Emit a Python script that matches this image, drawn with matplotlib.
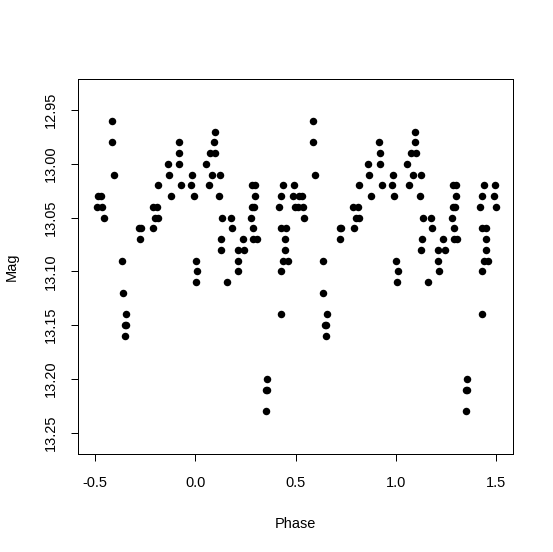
import numpy as np
import matplotlib.pyplot as plt


# ==========================
# Data (phase folded, -0.5 .. 0.5)
# ==========================

phase = [
    -0.488, -0.483, -0.470, -0.464, -0.457,
    -0.415, -0.413, -0.405,
    -0.365, -0.362, -0.344, -0.352, -0.347, -0.349,
    -0.279, -0.273, -0.277,
    -0.209, -0.212, -0.190, -0.200, -0.184, -0.184,
    -0.138, -0.133, -0.123,
    -0.083, -0.080, -0.080, -0.071,
    -0.016, -0.020, -0.008, 0.002, 0.010, 0.003,
    0.055, 0.067, 0.097, 0.094, 0.074, 0.100, 0.084, 0.124, 0.120,
    0.134, 0.128, 0.127,
    0.176, 0.181, 0.160,
    0.236, 0.211, 0.245, 0.211, 0.213,
    0.284, 0.299, 0.298, 0.283, 0.295, 0.279, 0.289, 0.289, 0.306,
    0.356, 0.350, 0.356, 0.351,
    0.439, 0.494, 0.427, 0.489, 0.417, 0.497,
    0.428, 0.450, 0.449, 0.448, 0.439, 0.460, 0.428, 0.429,
]

mag = [
    13.04, 13.03, 13.03, 13.04, 13.05,
    12.96, 12.98, 13.01,
    13.09, 13.12, 13.14, 13.15, 13.15, 13.16,
    13.06, 13.06, 13.07,
    13.06, 13.04, 13.04, 13.05, 13.05, 13.02,
    13.00, 13.01, 13.03,
    12.98, 12.99, 13.00, 13.02,
    13.01, 13.02, 13.03, 13.09, 13.10, 13.11,
    13.00, 13.02, 12.97, 12.98, 12.99, 12.99, 13.01, 13.01, 13.03,
    13.05, 13.07, 13.08,
    13.05, 13.06, 13.11,
    13.07, 13.08, 13.08, 13.09, 13.10,
    13.02, 13.02, 13.03, 13.04, 13.04, 13.05, 13.06, 13.07, 13.07,
    13.20, 13.21, 13.21, 13.23,
    13.02, 13.02, 13.03, 13.03, 13.04, 13.04,
    13.06, 13.06, 13.07, 13.08, 13.09, 13.09, 13.10, 13.14,
]

x_ticks = [-0.5, 0.0, 0.5, 1.0, 1.5]
y_ticks = [12.95, 13.00, 13.05, 13.10, 13.15, 13.20, 13.25]


# two cycles
phase = np.array(phase)
mag = np.array(mag)

x = np.concatenate([phase, phase + 1])
y = np.concatenate([mag, mag])


# ==========================
# Plot
# ==========================

plt.rcParams["font.family"] = ["Liberation Sans", "DejaVu Sans"]

W, H = 553, 552
fs = 14.5

fig = plt.figure(
    figsize=(W/72, H/72),
    dpi=72
)

ax = fig.add_axes([
    78.3/W,
    (H-454)/H,
    (512.7-78.3)/W,
    (454-79)/H
])

ax.plot(
    x,
    y,
    "o",
    color="black",
    markersize=7.5,
    markeredgewidth=0
)

ax.set_xlim(-0.583, 1.582)
ax.set_ylim(13.2697, 12.9212)

ax.set_xticks(x_ticks)
ax.set_xticklabels(["-0.5", "0.0", "0.5", "1.0", "1.5"])

ax.set_yticks(y_ticks)
ax.set_yticklabels(
    ["%.2f" % v for v in y_ticks],
    rotation=90,
    va="center"
)

ax.tick_params(
    length=7,
    width=1,
    labelsize=fs,
    direction="out"
)
ax.tick_params(axis="x", pad=15)
ax.tick_params(axis="y", pad=13)

for s in ax.spines.values():
    s.set_linewidth(1)

ax.set_xlabel("Phase", fontsize=fs, labelpad=27)
ax.set_ylabel("Mag", fontsize=fs, labelpad=26)


fig.savefig("out.png", dpi=72)
